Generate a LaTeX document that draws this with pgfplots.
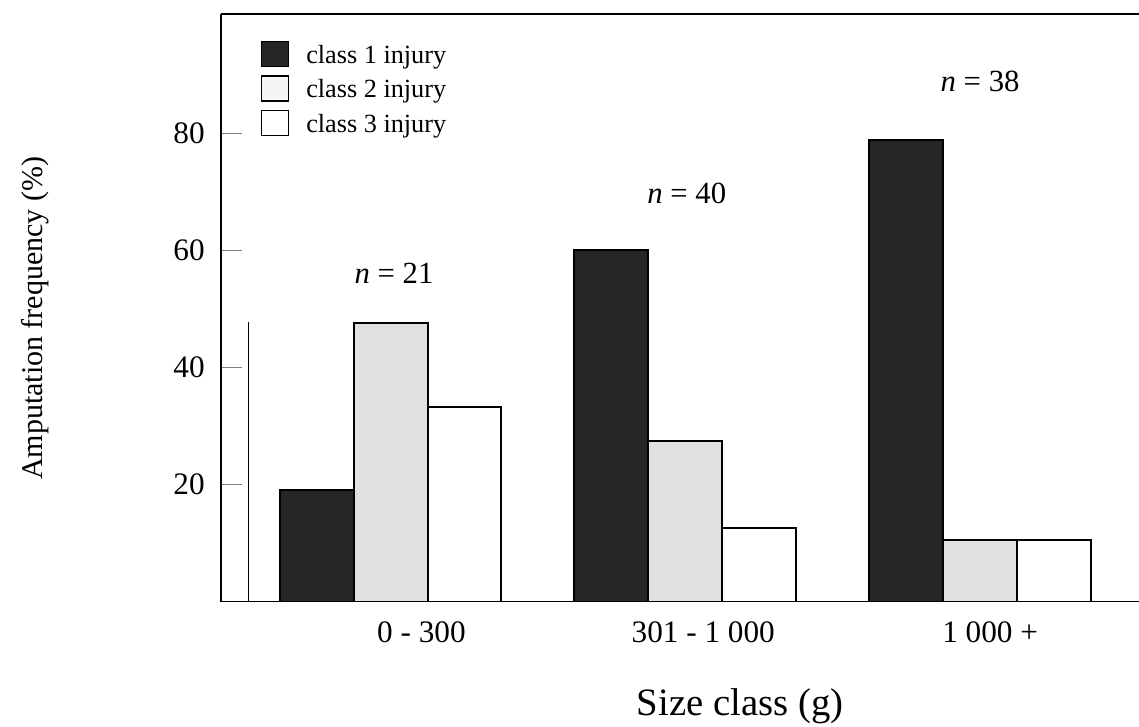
\documentclass[border=0pt]{standalone}
\usepackage{pgfplots}
\pgfplotsset{compat=1.18}
\usepackage{fontspec}
\setmainfont{Liberation Serif}
\definecolor{cone}{RGB}{38,38,38}
\definecolor{ctwo}{RGB}{224,224,224}

\begin{document}
\begin{tikzpicture}
\begin{axis}[
  scale only axis, width=367.2pt, height=235pt,
  at={(0,0)}, anchor=south west,
  every non boxed x axis/.style={}, every non boxed y axis/.style={},
  axis x line*=box, axis y line*=left,
  axis line style={line width=0.6pt},
  ybar, bar width=0.251,
  xmin=-0.575, xmax=2.539, ymin=0, ymax=100.4,
  xtick={0.105,1.061,2.034}, xticklabels={0 - 300, 301 - 1 000, 1 000 +},
  x tick style={draw=none},
  ytick={20,40,60,80},
  ytick align=inside, major tick length=8.5pt,
  y tick style={line width=0.6pt},
  /pgf/number format/assume math mode=true,
  tick label style={font=\fontsize{12.5}{14}\selectfont},
  xticklabel style={yshift=3.8pt},
  yticklabel style={xshift=-3pt},
  xlabel={Size class (g)}, ylabel={Amputation frequency (\%)},
  xlabel style={font=\fontsize{15.5}{17}\selectfont,
    at={(axis description cs:0.4435,-0.1932)}, anchor=base west},
  ylabel style={font=\fontsize{12}{14}\selectfont,
    at={(axis description cs:-0.2026,0.482)}, anchor=center},
  legend style={at={(0.0425,0.955)}, anchor=north west, draw=none, fill=none,
    font=\fontsize{10.5}{12}\selectfont, row sep=2.3pt, column sep=6pt,
    inner sep=0pt, nodes={inner sep=1pt}},
  legend cell align=left,
  legend image code/.code={\draw[#1, line width=0.5pt] (0pt,-4.2pt) rectangle (10.8pt,5.8pt);},
]
\addplot[fill=cone, draw=black, line width=0.8pt, bar shift=-0.251] coordinates {(0,19.0) (1,60.0) (2,78.9)};
\addplot[fill=ctwo, draw=black, line width=0.8pt, bar shift=0,
  legend image post style={fill=black!4}] coordinates {(0,47.6) (1,27.5) (2,10.5)};
\addplot[fill=white, draw=black, line width=0.8pt, bar shift=0.251] coordinates {(0,33.3) (1,12.5) (2,10.5)};
\legend{class 1 injury, class 2 injury, class 3 injury}
\node[font=\fontsize{12.3}{14}\selectfont] at (axis cs:0.012,56.0) {\textit{n} = 21};
\node[font=\fontsize{12.3}{14}\selectfont] at (axis cs:1.005,69.7) {\textit{n} = 40};
\node[font=\fontsize{12.3}{14}\selectfont] at (axis cs:2.0,88.8) {\textit{n} = 38};
\draw[line width=0.4pt] (axis cs:-0.483,47.8) -- (axis cs:-0.483,-1.1);
\end{axis}
\pgfresetboundingbox
\path[use as bounding box] (-88.4pt,-49.8pt) rectangle (367.2pt,240.6pt);
\end{tikzpicture}
\end{document}
